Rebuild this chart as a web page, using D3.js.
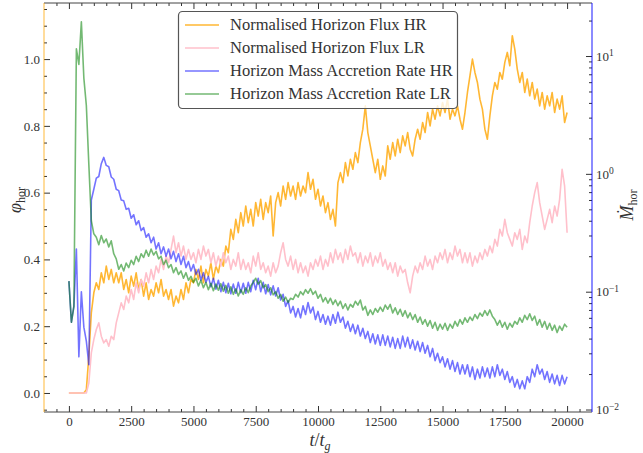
<!DOCTYPE html>
<meta charset="utf-8">
<style>
body { margin: 0; background: #fff; }
text { font-family: "Liberation Serif", "DejaVu Serif", serif; fill: #333; }
</style>
<script src="https://d3js.org/d3.v7.min.js"></script>
<body>
<script>

var width = 643, height = 453
var margin = {left: 44, right: 51, top: 3, bottom: 41}

// time grid, one sample every 100 t_g
var t = d3.range(0, 20001, 100)

var fluxHR = [
0, 0, 0, 0, 0, 0, 0, 0.01, 0.11, 0.24,
0.30, 0.33, 0.31, 0.36, 0.33, 0.38, 0.34, 0.37, 0.33, 0.36,
0.33, 0.36, 0.31, 0.34, 0.30, 0.35, 0.32, 0.36, 0.31, 0.34,
0.29, 0.33, 0.28, 0.31, 0.29, 0.33, 0.30, 0.34, 0.29, 0.31,
0.28, 0.31, 0.26, 0.29, 0.27, 0.31, 0.28, 0.33, 0.30, 0.34,
0.33, 0.37, 0.34, 0.38, 0.33, 0.37, 0.35, 0.39, 0.34, 0.38,
0.36, 0.40, 0.38, 0.44, 0.42, 0.49, 0.46, 0.52, 0.48, 0.54,
0.50, 0.56, 0.51, 0.55, 0.50, 0.57, 0.53, 0.58, 0.52, 0.57,
0.54, 0.59, 0.47, 0.57, 0.60, 0.56, 0.62, 0.58, 0.63, 0.59,
0.62, 0.58, 0.63, 0.59, 0.62, 0.60, 0.66, 0.61, 0.64, 0.58,
0.61, 0.56, 0.59, 0.54, 0.57, 0.52, 0.55, 0.50, 0.63, 0.66,
0.63, 0.69, 0.65, 0.70, 0.67, 0.72, 0.69, 0.75, 0.79, 0.86,
0.78, 0.74, 0.70, 0.66, 0.70, 0.64, 0.68, 0.65, 0.74, 0.70,
0.75, 0.71, 0.76, 0.72, 0.77, 0.74, 0.78, 0.73, 0.71, 0.76,
0.79, 0.76, 0.81, 0.78, 0.84, 0.80, 0.85, 0.82, 0.86, 0.83,
0.87, 0.84, 0.88, 0.82, 0.85, 0.83, 0.86, 0.82, 0.79, 0.84,
0.90, 0.95, 1.00, 0.96, 0.93, 0.88, 0.85, 0.79, 0.76, 0.83,
0.89, 0.93, 0.91, 0.96, 0.94, 0.99, 1.02, 0.98, 1.07, 1.03,
0.97, 0.93, 0.96, 0.90, 0.94, 0.89, 0.93, 0.88, 0.91, 0.86,
0.90, 0.85, 0.89, 0.86, 0.90, 0.84, 0.88, 0.85, 0.89, 0.81,
0.84]

var fluxLR = [
0, 0, 0, 0, 0, 0, 0, 0, 0.03, 0.12,
0.16, 0.19, 0.21, 0.17, 0.15, 0.16, 0.14, 0.17, 0.16, 0.21,
0.24, 0.27, 0.25, 0.29, 0.27, 0.31, 0.28, 0.33, 0.30, 0.34,
0.32, 0.36, 0.33, 0.37, 0.34, 0.38, 0.36, 0.40, 0.37, 0.41,
0.39, 0.43, 0.47, 0.42, 0.45, 0.41, 0.44, 0.40, 0.43, 0.40,
0.42, 0.39, 0.43, 0.40, 0.44, 0.41, 0.43, 0.39, 0.42, 0.38,
0.41, 0.38, 0.42, 0.39, 0.41, 0.37, 0.40, 0.38, 0.42, 0.37,
0.40, 0.37, 0.39, 0.36, 0.41, 0.38, 0.42, 0.37, 0.39, 0.36,
0.38, 0.35, 0.39, 0.36, 0.38, 0.42, 0.45, 0.40, 0.38, 0.41,
0.37, 0.40, 0.36, 0.39, 0.36, 0.38, 0.35, 0.39, 0.37, 0.40,
0.38, 0.41, 0.37, 0.40, 0.38, 0.42, 0.39, 0.43, 0.40, 0.42,
0.39, 0.43, 0.40, 0.44, 0.41, 0.42, 0.39, 0.42, 0.38, 0.41,
0.39, 0.42, 0.38, 0.41, 0.39, 0.42, 0.38, 0.40, 0.37, 0.39,
0.36, 0.39, 0.35, 0.38, 0.36, 0.37, 0.33, 0.30, 0.35, 0.38,
0.36, 0.39, 0.37, 0.41, 0.38, 0.40, 0.37, 0.41, 0.39, 0.42,
0.40, 0.43, 0.39, 0.42, 0.40, 0.44, 0.41, 0.43, 0.39, 0.42,
0.39, 0.42, 0.38, 0.41, 0.39, 0.42, 0.40, 0.43, 0.41, 0.44,
0.42, 0.46, 0.44, 0.49, 0.47, 0.52, 0.48, 0.46, 0.44, 0.48,
0.46, 0.49, 0.43, 0.47, 0.45, 0.51, 0.56, 0.60, 0.63, 0.57,
0.53, 0.49, 0.52, 0.55, 0.51, 0.56, 0.53, 0.58, 0.67, 0.62,
0.48]

var mdotHR = [
0.123, 0.055, 0.075, 0.23, 0.028, 0.10, 0.05, 0.038, 0.024, 0.60,
0.74, 0.92, 0.95, 1.22, 1.38, 1.18, 1.15, 0.94, 0.90, 0.74,
0.72, 0.60, 0.59, 0.50, 0.51, 0.42, 0.45, 0.37, 0.40, 0.33,
0.35, 0.29, 0.31, 0.26, 0.29, 0.23, 0.26, 0.21, 0.24, 0.20,
0.23, 0.19, 0.22, 0.18, 0.21, 0.17, 0.20, 0.16, 0.18, 0.15,
0.17, 0.14, 0.155, 0.125, 0.145, 0.12, 0.135, 0.11, 0.13, 0.105,
0.125, 0.10, 0.12, 0.098, 0.118, 0.096, 0.116, 0.097, 0.12, 0.098,
0.118, 0.097, 0.12, 0.10, 0.125, 0.104, 0.13, 0.10, 0.12, 0.096,
0.115, 0.094, 0.112, 0.092, 0.108, 0.085, 0.095, 0.075, 0.084, 0.066,
0.075, 0.061, 0.072, 0.060, 0.076, 0.064, 0.081, 0.066, 0.074, 0.058,
0.068, 0.055, 0.064, 0.053, 0.062, 0.052, 0.064, 0.054, 0.067, 0.055,
0.061, 0.049, 0.056, 0.046, 0.053, 0.044, 0.052, 0.042, 0.049, 0.040,
0.046, 0.037, 0.044, 0.036, 0.043, 0.035, 0.043, 0.035, 0.042, 0.034,
0.041, 0.033, 0.040, 0.033, 0.042, 0.034, 0.041, 0.033, 0.039, 0.032,
0.038, 0.031, 0.037, 0.030, 0.035, 0.028, 0.033, 0.026, 0.030, 0.025,
0.028, 0.023, 0.027, 0.022, 0.026, 0.021, 0.025, 0.020, 0.024, 0.020,
0.024, 0.019, 0.023, 0.018, 0.022, 0.0185, 0.023, 0.019, 0.0225, 0.0185,
0.023, 0.019, 0.024, 0.0195, 0.022, 0.018, 0.021, 0.017, 0.019, 0.0155,
0.018, 0.015, 0.0175, 0.015, 0.019, 0.017, 0.022, 0.019, 0.024, 0.020,
0.022, 0.018, 0.021, 0.017, 0.020, 0.0165, 0.0195, 0.016, 0.0195, 0.0165,
0.019]

var mdotLR = [
0.123, 0.055, 0.075, 11.5, 8.5, 19.5, 6.5, 3.8, 1.2, 0.40,
0.31, 0.29, 0.25, 0.30, 0.26, 0.28, 0.24, 0.27, 0.21, 0.19,
0.155, 0.17, 0.15, 0.175, 0.16, 0.185, 0.17, 0.20, 0.18, 0.21,
0.195, 0.225, 0.20, 0.23, 0.205, 0.22, 0.19, 0.20, 0.17, 0.185,
0.16, 0.17, 0.145, 0.16, 0.14, 0.15, 0.13, 0.145, 0.125, 0.135,
0.12, 0.13, 0.112, 0.125, 0.108, 0.12, 0.104, 0.118, 0.102, 0.116,
0.103, 0.117, 0.101, 0.113, 0.097, 0.11, 0.095, 0.106, 0.092, 0.104,
0.095, 0.108, 0.098, 0.112, 0.12, 0.13, 0.116, 0.124, 0.108, 0.115,
0.100, 0.108, 0.094, 0.10, 0.088, 0.095, 0.083, 0.09, 0.081, 0.088,
0.086, 0.095, 0.09, 0.10, 0.094, 0.104, 0.097, 0.106, 0.095, 0.101,
0.088, 0.095, 0.082, 0.089, 0.08, 0.088, 0.078, 0.085, 0.076, 0.083,
0.072, 0.079, 0.07, 0.078, 0.074, 0.083, 0.077, 0.085, 0.07, 0.075,
0.063, 0.07, 0.064, 0.072, 0.067, 0.074, 0.068, 0.077, 0.071, 0.078,
0.066, 0.073, 0.064, 0.071, 0.062, 0.069, 0.06, 0.066, 0.058, 0.064,
0.055, 0.061, 0.053, 0.058, 0.051, 0.057, 0.049, 0.055, 0.047, 0.053,
0.048, 0.054, 0.047, 0.053, 0.049, 0.056, 0.051, 0.058, 0.053, 0.06,
0.055, 0.061, 0.057, 0.064, 0.059, 0.066, 0.062, 0.069, 0.063, 0.07,
0.062, 0.058, 0.052, 0.057, 0.05, 0.055, 0.048, 0.054, 0.05, 0.056,
0.053, 0.06, 0.055, 0.063, 0.058, 0.065, 0.057, 0.062, 0.052, 0.058,
0.05, 0.056, 0.048, 0.054, 0.047, 0.052, 0.045, 0.051, 0.047, 0.053,
0.05]

var xTicks = [0, 2500, 5000, 7500, 10000, 12500, 15000, 17500, 20000]
var yLeftTicks = [0, 0.2, 0.4, 0.6, 0.8, 1.0]
var yRightTicks = [0.01, 0.1, 1, 10]
var yRightLabels = ["\u22122", "\u22121", "0", "1"]

var series = [
  {name: "Normalised Horizon Flux HR", values: fluxHR, axis: "left", color: "orange", op: 0.8},
  {name: "Normalised Horizon Flux LR", values: fluxLR, axis: "left", color: "pink", op: 1},
  {name: "Horizon Mass Accretion Rate HR", values: mdotHR, axis: "right", color: "blue", op: 0.55},
  {name: "Horizon Mass Accretion Rate LR", values: mdotLR, axis: "right", color: "green", op: 0.55}
]

var svg = d3.select("body").append("svg").attr("width", width).attr("height", height)

var x0 = margin.left, x1 = width - margin.right, y0 = height - margin.bottom, y1 = margin.top

var x = d3.scaleLinear().domain([-1000, 21000]).range([x0, x1])
var yL = d3.scaleLinear().domain([-0.057, 1.168]).range([y0, y1])
var yR = d3.scaleLog().domain([Math.pow(10, -2.021), Math.pow(10, 1.45)]).range([y0, y1])

svg.append("clipPath").attr("id", "clip").append("rect")
  .attr("x", x0).attr("y", y1).attr("width", x1 - x0).attr("height", y0 - y1)

var plot = svg.append("g").attr("clip-path", "url(#clip)")

series.forEach(function(s) {
  var ys = s.axis == "left" ? yL : yR
  var line = d3.line().x(function(d, i) { return x(t[i]) }).y(function(d) { return ys(d) })
  plot.append("path")
    .datum(s.values)
    .attr("d", line)
    .attr("fill", "none")
    .attr("stroke", s.color)
    .attr("stroke-opacity", s.op)
    .attr("stroke-width", 1.6)
    .attr("stroke-linejoin", "round")
})

// minor tick values
var xMinor = d3.range(-500, 21000, 500).filter(function(v) { return v % 2500 != 0 })
var yLMinor = d3.range(-0.05, 1.17, 0.05).filter(function(v) { return Math.abs(Math.round(v * 5) - v * 5) > 0.01 })
var yRMinor = []
;[0.01, 0.1, 1, 10].forEach(function(dec) { for (var k = 2; k < 10; k++) { if (dec * k < yR.domain()[1]) yRMinor.push(dec * k) } })

function ax(g) { g.select(".domain").remove(); g.selectAll("line").attr("stroke", "#333"); g.selectAll("text").style("font-size", "13px").attr("fill", "#333") }

svg.append("g").attr("transform", "translate(0," + y0 + ")")
  .call(d3.axisBottom(x).tickValues(xTicks).tickSize(-6).tickPadding(5).tickFormat(d3.format("d"))).call(ax)
svg.append("g").attr("transform", "translate(0," + y0 + ")")
  .call(d3.axisBottom(x).tickValues(xMinor).tickSize(-3).tickFormat("")).call(ax)
svg.append("g").attr("transform", "translate(0," + y1 + ")")
  .call(d3.axisTop(x).tickValues(xTicks).tickSize(-6).tickFormat("")).call(ax)
svg.append("g").attr("transform", "translate(0," + y1 + ")")
  .call(d3.axisTop(x).tickValues(xMinor).tickSize(-3).tickFormat("")).call(ax)

svg.append("g").attr("transform", "translate(" + x0 + ",0)")
  .call(d3.axisLeft(yL).tickValues(yLeftTicks).tickSize(-6).tickPadding(4).tickFormat(d3.format(".1f"))).call(ax)
svg.append("g").attr("transform", "translate(" + x0 + ",0)")
  .call(d3.axisLeft(yL).tickValues(yLMinor).tickSize(-3).tickFormat("")).call(ax)

var rAxis = svg.append("g").attr("transform", "translate(" + x1 + ",0)")
  .call(d3.axisRight(yR).tickValues(yRightTicks).tickSize(-6).tickPadding(4).tickFormat(function() { return "" })).call(ax)
rAxis.selectAll(".tick text").each(function(d, i) {
  var el = d3.select(this).text("10")
  el.append("tspan").attr("dy", "-0.45em").style("font-size", "9.5px").text(yRightLabels[i])
})
svg.append("g").attr("transform", "translate(" + x1 + ",0)")
  .call(d3.axisRight(yR).tickValues(yRMinor).tickSize(-3).tickFormat("")).call(ax)

// spines
svg.append("line").attr("x1", x0).attr("x2", x1).attr("y1", y0).attr("y2", y0).attr("stroke", "#444")
svg.append("line").attr("x1", x0).attr("x2", x1).attr("y1", y1).attr("y2", y1).attr("stroke", "#444")
svg.append("line").attr("x1", x0).attr("x2", x0).attr("y1", y0).attr("y2", y1).attr("stroke", "orange").attr("stroke-opacity", 0.6).attr("stroke-width", 1.3)
svg.append("line").attr("x1", x1).attr("x2", x1).attr("y1", y0).attr("y2", y1).attr("stroke", "blue").attr("stroke-opacity", 0.7).attr("stroke-width", 1.3)

// axis titles
var xt = svg.append("text").attr("x", 320).attr("y", 446).attr("text-anchor", "middle").style("font-size", "18px")
xt.append("tspan").style("font-style", "italic").text("t")
xt.append("tspan").text("/")
xt.append("tspan").style("font-style", "italic").text("t")
xt.append("tspan").style("font-style", "italic").style("font-size", "12px").attr("dy", 4).text("g")

var ylt = svg.append("text").attr("transform", "translate(21,200) rotate(-90)").attr("text-anchor", "middle").style("font-size", "18px")
ylt.append("tspan").style("font-style", "italic").text("\u03c6")
ylt.append("tspan").style("font-size", "12px").attr("dy", 4).text("hor")

var yrt = svg.append("text").attr("transform", "translate(633,205) rotate(-90)").attr("text-anchor", "middle").style("font-size", "18px")
yrt.append("tspan").style("font-style", "italic").text("\u1e40")
yrt.append("tspan").style("font-size", "12px").attr("dy", 4).text("hor")

// legend
var lg = svg.append("g")
lg.append("rect").attr("x", 178.5).attr("y", 11.5).attr("width", 279).attr("height", 97).attr("rx", 4)
  .attr("fill", "white").attr("fill-opacity", 0.8).attr("stroke", "#555").attr("stroke-width", 1.2)
series.forEach(function(s, i) {
  var yy = 25 + i * 23
  lg.append("line").attr("x1", 185).attr("x2", 219).attr("y1", yy).attr("y2", yy)
    .attr("stroke", s.color).attr("stroke-opacity", s.op).attr("stroke-width", 1.4)
  lg.append("text").attr("x", 230).attr("y", yy + 5).style("font-size", "16.5px").text(s.name)
})

</script>
